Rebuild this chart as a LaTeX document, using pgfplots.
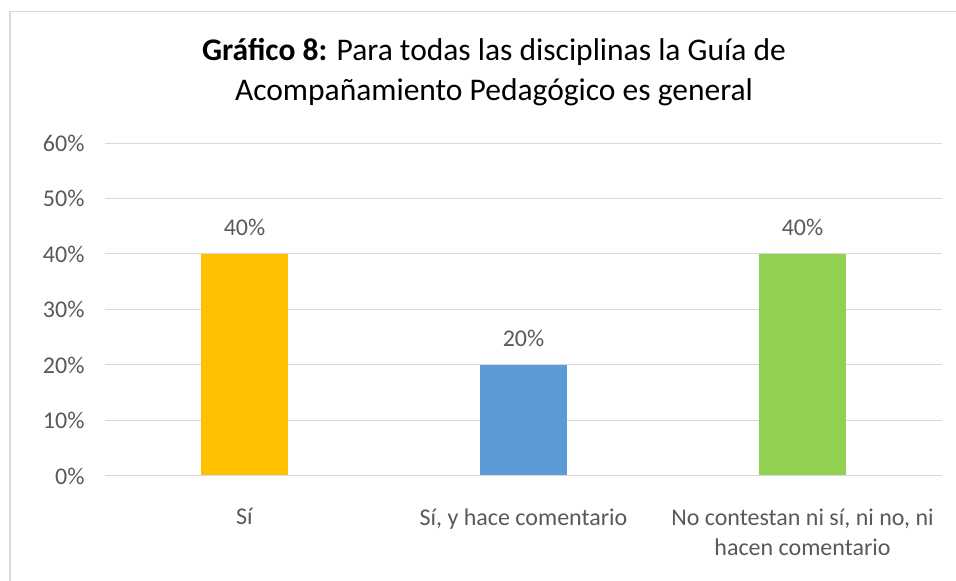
\documentclass[border=0pt]{standalone}
\usepackage{pgfplots}
\pgfplotsset{compat=1.18}
\usepackage{fontspec}
\setmainfont{Carlito}
\definecolor{txt}{HTML}{595959}
\definecolor{gridc}{HTML}{D9D9D9}
\definecolor{c1}{HTML}{FFC000}
\definecolor{c2}{HTML}{5B9BD5}
\definecolor{c3}{HTML}{92D050}
\begin{document}
\begin{tikzpicture}[x=1pt,y=1pt]
\path[use as bounding box] (0,0) rectangle (956,581);
\draw[gridc, line width=1.5pt] (10,0) -- (10,569.5) -- (956,569.5);
\node[align=center, font=\fontsize{31.5}{40}\selectfont, text=black, anchor=center] at (494,509)
  {\textbf{Gráfico 8:} Para todas las disciplinas la Guía de\\Acompañamiento Pedagógico es general};
\begin{axis}[
  at={(105pt,105pt)}, anchor=south west,
  scale only axis, width=837pt, height=333pt,
  ymin=0, ymax=60, ytick={0,10,...,60},
  xmin=-0.5, xmax=2.5, xtick={0,1,2},
  xticklabels={Sí,{Sí, y hace comentario},{No contestan ni sí, ni no, ni\\hacen comentario}},
  xticklabel style={align=center, font=\fontsize{24}{30}\selectfont, text=txt, yshift=-29pt},
  yticklabel={\pgfmathprintnumber{\tick}\%},
  yticklabel style={font=\fontsize{24}{28}\selectfont, text=txt, xshift=-17pt},
  /pgf/number format/assume math mode=true,
  axis line style={draw=none},
  tick style={draw=none},
  ymajorgrids, xmajorgrids=false, grid style={gridc, line width=1pt},
  major tick length=0pt,
  ybar, bar width=87pt, bar shift=0pt,
  nodes near coords={\pgfmathprintnumber{\pgfplotspointmeta}\%},
  nodes near coords style={font=\fontsize{24}{28}\selectfont, text=txt, yshift=15pt},
  every axis plot/.append style={draw=none},
]
\addplot[fill=c1] coordinates {(0,40)};
\addplot[fill=c2] coordinates {(1,20)};
\addplot[fill=c3] coordinates {(2,40)};
\draw[gridc, line width=1pt] (axis cs:-0.5,0) -- (axis cs:2.5,0);
\end{axis}
\end{tikzpicture}
\end{document}
